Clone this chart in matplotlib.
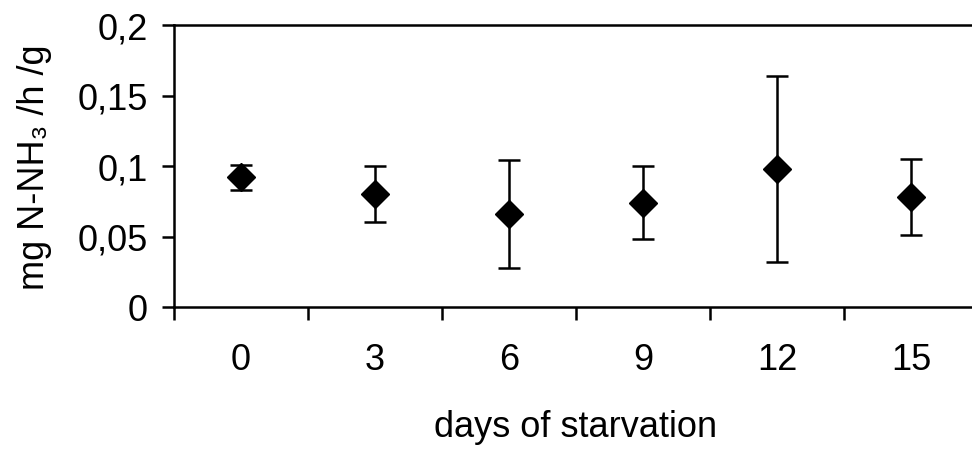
import matplotlib.pyplot as plt
import numpy as np

plt.rcParams['font.family'] = ['Liberation Sans', 'DejaVu Sans']

# data
days = ['0', '3', '6', '9', '12', '15']
means = [0.092, 0.080, 0.066, 0.074, 0.098, 0.078]
errs = [0.009, 0.020, 0.038, 0.026, 0.066, 0.027]
y_ticks = [0, 0.05, 0.1, 0.15, 0.2]
y_tick_labels = ['0', '0,05', '0,1', '0,15', '0,2']

fs = 26

fig = plt.figure(figsize=(9.72, 4.52), dpi=100)
ax = fig.add_axes([174 / 972, 1 - 308 / 452, (978 - 174) / 972, (308 - 26) / 452])

pos = np.arange(len(days))
ax.errorbar(pos, means, yerr=errs, fmt='D', color='black', markersize=14.5,
            ecolor='black', elinewidth=1.8, capsize=8, capthick=1.8)

ax.set_xlim(-0.5, len(days) - 0.5)
ax.set_ylim(0, 0.2)

# category borders as ticks, labels in the middle
ax.set_xticks(np.arange(len(days) + 1) - 0.5)
ax.set_xticklabels([])
ax.set_xticks(pos, minor=True)
ax.set_xticklabels(days, minor=True)
ax.tick_params(axis='x', which='major', direction='out', length=9, width=1.8)
ax.tick_params(axis='x', which='minor', length=0, pad=25, labelsize=fs)

ax.set_yticks(y_ticks)
ax.set_yticklabels(y_tick_labels)
ax.tick_params(axis='y', direction='out', length=9, width=1.8, pad=10, labelsize=fs)

for s in ['left', 'bottom', 'top']:
    ax.spines[s].set_linewidth(1.8)
ax.spines['right'].set_visible(False)

fig.text(576 / 972, 1 - 437 / 452, 'days of starvation', fontsize=fs,
         ha='center', va='baseline')
fig.text(34 / 972, 1 - 167 / 452, 'mg N-NH\u2083 /h /g', fontsize=fs,
         ha='center', va='center', rotation=90)

plt.savefig('out.png', dpi=100)
